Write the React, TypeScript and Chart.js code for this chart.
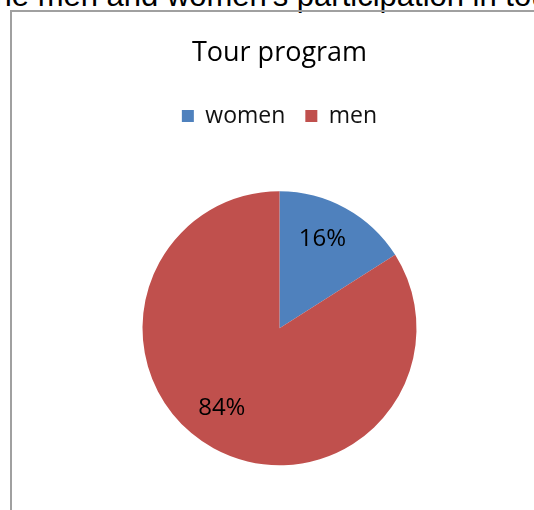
import React, { useEffect, useRef } from "react";
import { Chart, registerables } from "chart.js";

Chart.register(...registerables);

const categories = ["women", "men"];
const values = [16, 84];
const sliceColors = ["#4F81BD", "#C0504D"];
const chartTitle = "Tour program";
const caption = "The men and women's participation in tour program";

const labelRadiusFactor = 0.72;
const labelAngleOffsetDeg = [-3, 7];

const percentLabels = {
  id: "percentLabels",
  afterDatasetsDraw(chart: any) {
    const ctx = chart.ctx;
    const meta = chart.getDatasetMeta(0);
    const total = values.reduce((a, b) => a + b, 0);
    meta.data.forEach((arc: any, i: number) => {
      const p = arc.getProps(["x", "y", "startAngle", "endAngle", "outerRadius"], true);
      const mid = (p.startAngle + p.endAngle) / 2 + (labelAngleOffsetDeg[i] * Math.PI) / 180;
      const r = p.outerRadius * labelRadiusFactor;
      ctx.save();
      ctx.font = "24px 'Open Sans'";
      ctx.fillStyle = "#000";
      ctx.textAlign = "center";
      ctx.textBaseline = "middle";
      ctx.fillText(Math.round((values[i] / total) * 100) + "%", p.x + Math.cos(mid) * r, p.y + Math.sin(mid) * r);
      ctx.restore();
    });
  },
};

export default function App() {
  const ref = useRef<HTMLCanvasElement | null>(null);

  useEffect(() => {
    if (!ref.current) return;
    const chart = new Chart(ref.current, {
      type: "pie",
      data: {
        labels: categories,
        datasets: [
          {
            data: values,
            backgroundColor: sliceColors,
            borderWidth: 0,
            radius: 137,
          },
        ],
      },
      options: {
        responsive: false,
        animation: false,
        events: [],
        layout: { padding: { left: 25, right: 0, top: 0, bottom: 0 } },
        plugins: {
          title: {
            display: true,
            text: chartTitle,
            color: "#000",
            font: { family: "'Open Sans'", size: 27, weight: "normal" },
            padding: { top: 37.3, bottom: 14.8 },
          },
          legend: {
            display: true,
            position: "top",
            labels: {
              color: "#111",
              font: { family: "'Open Sans'", size: 23 },
              boxWidth: 12,
              boxHeight: 12,
              padding: 20,
            },
          },
          tooltip: { enabled: false },
        },
      },
      plugins: [percentLabels],
    });
    return () => chart.destroy();
  }, []);

  return (
    <div
      style={{
        position: "fixed",
        left: 0,
        top: 0,
        width: 534,
        height: 510,
        overflow: "hidden",
        background: "#fff",
      }}
    >
      <div
        style={{
          position: "absolute",
          left: -24.4,
          top: -20.8,
          whiteSpace: "nowrap",
          fontFamily: "'Liberation Sans', Arial, sans-serif",
          fontSize: 31,
          lineHeight: "34px",
          color: "#000",
        }}
      >
        {caption}
      </div>
      <div
        style={{
          position: "absolute",
          left: 10,
          top: 10,
          width: 600,
          height: 600,
          borderLeft: "2px solid #a0a0a0",
          borderTop: "2px solid #a0a0a0",
        }}
      />
      <canvas
        ref={ref}
        width={534}
        height={519}
        style={{ position: "absolute", left: 0, top: 0 }}
      />
    </div>
  );
}
